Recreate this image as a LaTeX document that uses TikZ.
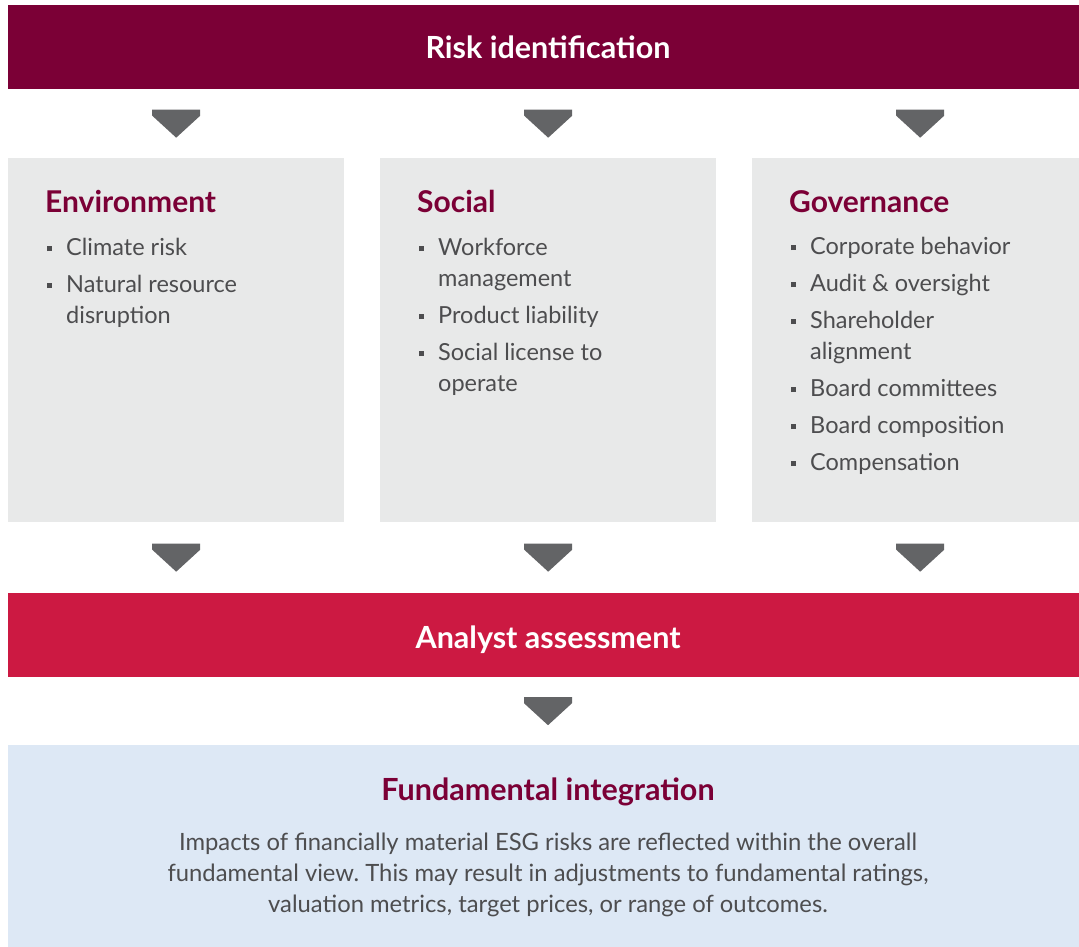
\documentclass[tikz,border=0pt]{standalone}
\usepackage{fontspec}
\setmainfont{Lato}
\usepackage{tikz}
\usetikzlibrary{shapes,positioning,calc}
\usepackage{xcolor}
\frenchspacing
\definecolor{esgmaroon}{RGB}{123,0,54}
\definecolor{esgred}{RGB}{204,25,66}
\definecolor{esggray}{RGB}{232,233,233}
\definecolor{esgarrow}{RGB}{99,100,102}
\definecolor{esglightblue}{RGB}{221,232,245}
\definecolor{esgtext}{RGB}{77,77,79}
\tikzstyle{bar} = [rectangle, anchor=north west, inner sep=0, minimum width=1071pt, minimum height=84pt]
\tikzstyle{pillar} = [rectangle, anchor=north west, inner sep=0, fill=esggray, minimum width=336pt, minimum height=364pt]
\tikzstyle{bartext} = [inner sep=0, anchor=base, text=white, font=\fontsize{30.5}{36}\selectfont\bfseries]
\tikzstyle{heading} = [inner sep=0, anchor=base west, text=esgmaroon, font=\fontsize{30}{36}\selectfont\bfseries]
\tikzstyle{items} = [inner sep=0, anchor=base west, align=left, text=esgtext, font=\fontsize{23.5}{31}\selectfont]
\tikzset{chev/.pic={\fill[esgarrow] (-24,-14) -- (24,-14) -- (24,-8) -- (0,14) -- (-24,-8) -- cycle;}}
\newcommand{\bul}[1]{\makebox[21pt][l]{\hspace{2pt}\raisebox{4pt}{\rule{5pt}{5pt}}}#1}
\newcommand{\cont}[1]{\hspace*{21pt}#1}

\begin{document}
\begin{tikzpicture}[x=1pt, y=-1pt]
\useasboundingbox (0,0) rectangle (1079,947);
% Bars across the page
\node[bar, fill=esgmaroon] (riskbar) at (8,5) {};
\node[bar, fill=esgred] (analystbar) at (8,593) {};
\node[bar, fill=esglightblue, minimum height=202pt] (fundbox) at (8,745) {};

% Three pillars
\node[pillar] (env) at (8,158) {};
\node[pillar] (soc) at (380,158) {};
\node[pillar] (gov) at (752,158) {};

% Bar texts
\node[bartext] (risktext) at (548,59) {Risk identification};
\node[bartext] (analysttext) at (548,648) {Analyst assessment};
\node[bartext, text=esgmaroon] (fundtext) at (548,800) {Fundamental integration};

% Pillar headings
\node[heading] (envhead) at (45,212) {Environment};
\node[heading] (sochead) at (417,212) {Social};
\node[heading] (govhead) at (789,212) {Governance};

% Pillar items (anchored on the last line)
\node[items] (envitems) at (45,323) {\bul{Climate risk}\\[6pt]\bul{Natural resource}\\\cont{disruption}};
\node[items] (socitems) at (417,391) {\bul{Workforce}\\\cont{management}\\[6pt]\bul{Product liability}\\[6pt]\bul{Social license to}\\\cont{operate}};
\node[items] (govitems) at (789,470) {\bul{Corporate behavior}\\[6pt]\bul{Audit \& oversight}\\[6pt]\bul{Shareholder}\\\cont{alignment}\\[6pt]\bul{Board committees}\\[6pt]\bul{Board composition}\\[6pt]\bul{Compensation}};

% Integration text
\node[items, anchor=base, align=center, font=\fontsize{23.8}{31}\selectfont] (fundbody) at (548,912) {Impacts of financially material ESG risks are reflected within the overall\\fundamental view. This may result in adjustments to fundamental ratings,\\valuation metrics, target prices, or range of outcomes.};

% Arrows down
\foreach \p in {env,soc,gov} {
  \pic at ($(riskbar.south -| \p.north)!0.5!(\p.north)$) {chev};
  \pic at ($(\p.south)!0.5!(analystbar.north -| \p.south)$) {chev};
}
\pic at ($(analystbar.south -| analysttext)!0.5!(fundbox.north -| analysttext)$) {chev};
\end{tikzpicture}
\end{document}
